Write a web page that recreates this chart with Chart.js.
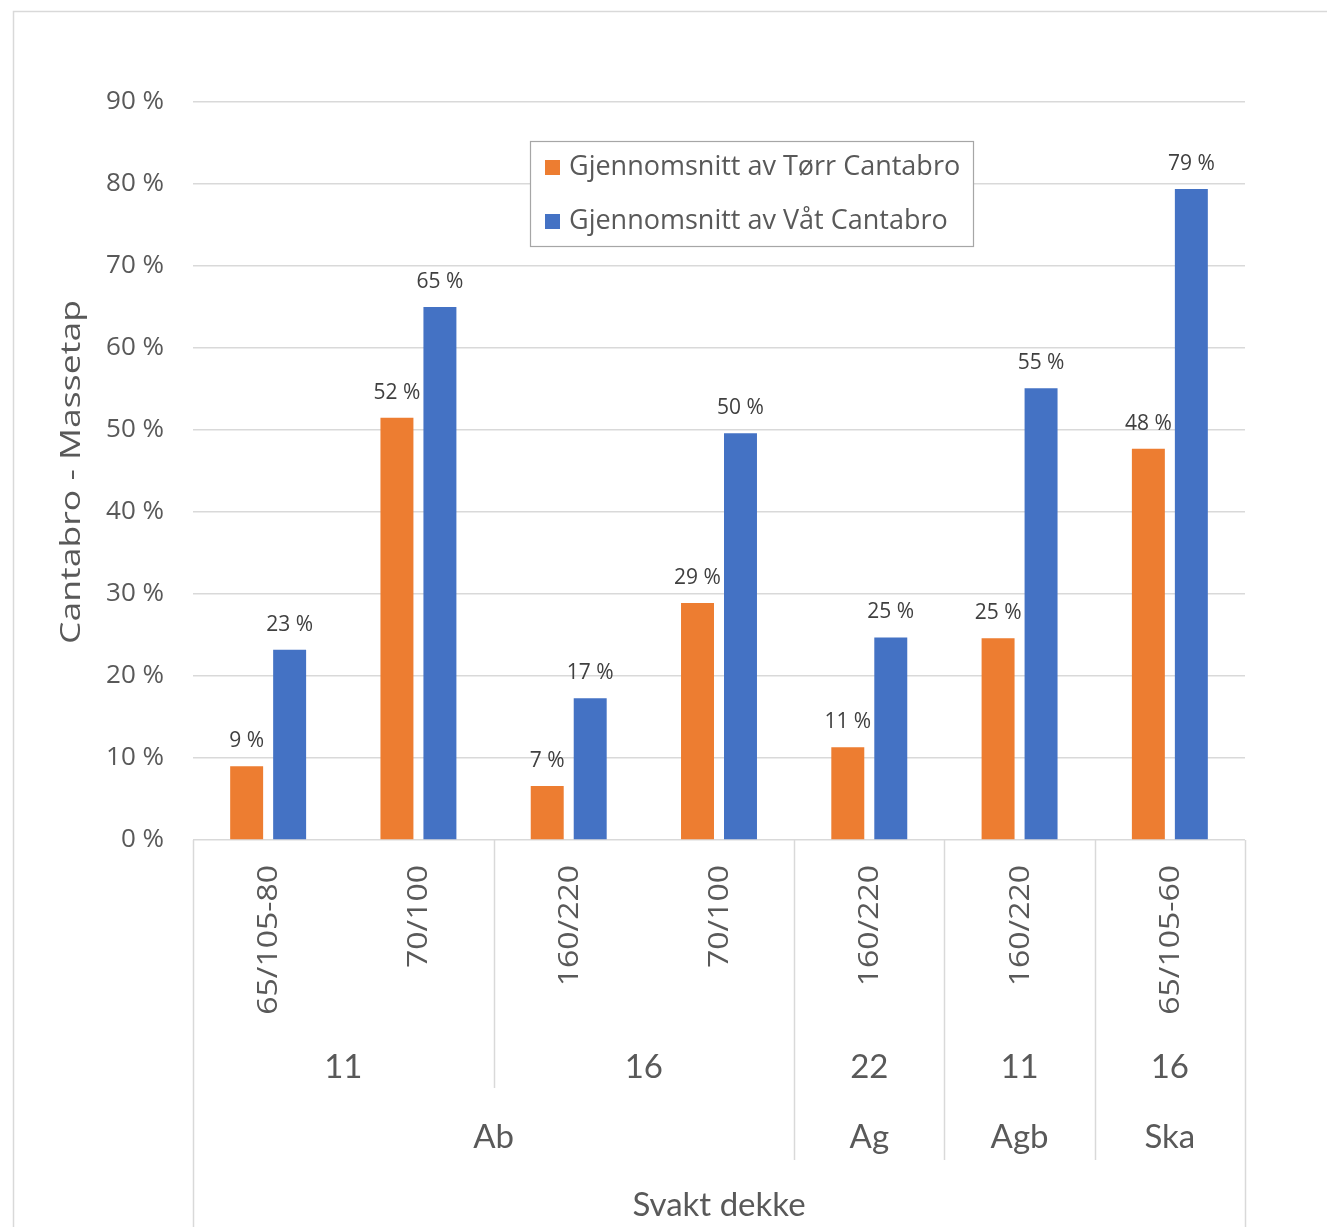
<!DOCTYPE html>
<html>
<head>
<meta charset="utf-8">
<script src="https://cdn.jsdelivr.net/npm/chart.js@4/dist/chart.umd.min.js"></script>
<style>
  html, body { margin: 0; padding: 0; background: #ffffff; }
  #wrap { width: 1327px; height: 1227px; position: relative; }
</style>
</head>
<body>
<div id="wrap"><canvas id="c" width="1327" height="1227"></canvas></div>
<script>
// Binder grade per column (innermost axis level)
const binderGrades = ['65/105-80', '70/100', '160/220', '70/100', '160/220', '160/220', '65/105-60'];
// Max aggregate size (middle axis level)
const maxSizes = ['11', '11', '16', '16', '22', '11', '16'];
// Mix type (outer axis level)
const mixTypes = ['Ab', 'Ab', 'Ab', 'Ab', 'Ag', 'Agb', 'Ska'];

const seriesNames = ['Gjennomsnitt av Tørr Cantabro', 'Gjennomsnitt av Våt Cantabro'];
// Average Cantabro mass loss (fraction)
const dryLoss = [0.090, 0.515, 0.066, 0.289, 0.113, 0.246, 0.477];
const wetLoss = [0.232, 0.650, 0.173, 0.496, 0.247, 0.551, 0.794];

const yTicks = [0, 0.1, 0.2, 0.3, 0.4, 0.5, 0.6, 0.7, 0.8, 0.9];
const xAxisTitle = 'Svakt dekke';
const yAxisTitle = 'Cantabro - Massetap';

const TEXT = '#595959';
const GRID = '#d9d9d9';
const SANS = '"Open Sans", "DejaVu Sans", sans-serif';
const CAL = 'Lato, "Open Sans", sans-serif';

const pct = v => Math.round(v * 100) + ' %';

// group contiguous columns sharing a key
function spans(keys) {
  const out = [];
  keys.forEach((k, i) => {
    const last = out[out.length - 1];
    if (last && last.key === k) last.end = i;
    else out.push({ key: k, start: i, end: i });
  });
  return out;
}

// vertical text, drawn reading bottom-to-top and slightly elongated
function verticalText(ctx, text, x, y, align, stretch) {
  ctx.save();
  ctx.translate(x, y);
  ctx.rotate(-Math.PI / 2);
  ctx.scale(stretch, 1);
  ctx.textAlign = align;
  ctx.textBaseline = 'middle';
  ctx.fillText(text, 0, 0);
  ctx.restore();
}

const decorations = {
  id: 'decorations',
  beforeDraw(chart) {
    const ctx = chart.ctx;
    ctx.save();
    ctx.fillStyle = '#ffffff';
    ctx.fillRect(0, 0, chart.width, chart.height);
    // outer frame
    ctx.strokeStyle = GRID;
    ctx.lineWidth = 1.5;
    ctx.beginPath();
    ctx.moveTo(13.5, chart.height + 2);
    ctx.lineTo(13.5, 11.5);
    ctx.lineTo(chart.width + 2, 11.5);
    ctx.stroke();
    ctx.restore();
  },
  afterDraw(chart) {
    const ctx = chart.ctx;
    const xs = chart.scales.x;
    const area = chart.chartArea;
    const n = binderGrades.length;
    const center = i => xs.getPixelForValue(i);
    const edge = i => {
      if (i <= 0) return xs.left;
      if (i >= n) return xs.right;
      return (center(i - 1) + center(i)) / 2;
    };
    const y0 = area.bottom;
    const l2Bottom = 1088, l3Bottom = 1160, fullBottom = chart.height;

    ctx.save();
    ctx.strokeStyle = GRID;
    ctx.lineWidth = 1.5;
    const vline = (x, yb) => {
      ctx.beginPath();
      ctx.moveTo(Math.round(x) + 0.5, y0);
      ctx.lineTo(Math.round(x) + 0.5, yb);
      ctx.stroke();
    };
    vline(edge(0), fullBottom);
    vline(edge(n), fullBottom);

    const outer = spans(mixTypes);
    const inner = spans(mixTypes.map((m, i) => m + '|' + maxSizes[i]));
    outer.forEach(s => { if (s.start > 0) vline(edge(s.start), l3Bottom); });
    inner.forEach(s => {
      if (s.start > 0 && !outer.some(o => o.start === s.start)) vline(edge(s.start), l2Bottom);
    });

    ctx.fillStyle = TEXT;

    // innermost category labels (binder grade), rotated
    ctx.font = '28px ' + SANS;
    xs.ticks.forEach((t, i) => {
      verticalText(ctx, xs.getLabelForValue(t.value), center(i) + 1, y0 + 25, 'right', 1.14);
    });

    ctx.textAlign = 'center';
    ctx.textBaseline = 'middle';
    ctx.font = '33px ' + CAL;
    inner.forEach(s => {
      const label = s.key.split('|')[1];
      ctx.fillText(label, (edge(s.start) + edge(s.end + 1)) / 2, 1067);
    });
    outer.forEach(s => {
      ctx.fillText(s.key, (edge(s.start) + edge(s.end + 1)) / 2, 1137);
    });
    ctx.fillText(xAxisTitle, (edge(0) + edge(n)) / 2, 1205);

    // y axis title
    ctx.font = '28px ' + SANS;
    verticalText(ctx, yAxisTitle, 72, 472, 'center', 1.27);

    // value labels above bars
    ctx.textAlign = 'center';
    ctx.fillStyle = '#404040';
    ctx.font = '21px ' + SANS;
    chart.data.datasets.forEach((ds, di) => {
      const meta = chart.getDatasetMeta(di);
      meta.data.forEach((bar, i) => {
        ctx.fillText(pct(ds.data[i]), bar.x, bar.y - 25);
      });
    });

    // legend box
    const lx = 530, ly = 141, lw = 443, lh = 105;
    ctx.fillStyle = '#ffffff';
    ctx.fillRect(lx, ly, lw, lh);
    ctx.strokeStyle = '#a6a6a6';
    ctx.lineWidth = 1.2;
    ctx.strokeRect(lx + 0.5, ly + 0.5, lw, lh);
    ctx.textAlign = 'left';
    ctx.font = '27px ' + SANS;
    chart.data.datasets.forEach((ds, di) => {
      const cy = 167 + di * 54;
      ctx.fillStyle = ds.backgroundColor;
      ctx.fillRect(545, cy - 7, 15, 15);
      ctx.fillStyle = TEXT;
      ctx.fillText(ds.label, 569, cy);
    });
    ctx.restore();
  }
};

new Chart(document.getElementById('c'), {
  type: 'bar',
  data: {
    labels: binderGrades,
    datasets: [
      { label: seriesNames[0], data: dryLoss, backgroundColor: '#ed7d31' },
      { label: seriesNames[1], data: wetLoss, backgroundColor: '#4472c4' }
    ]
  },
  options: {
    responsive: false,
    animation: false,
    events: [],
    layout: { padding: { left: 0, top: 102, right: 82, bottom: 0 } },
    datasets: { bar: { categoryPercentage: 0.572, barPercentage: 0.767 } },
    plugins: { legend: { display: false }, tooltip: { enabled: false } },
    scales: {
      x: {
        grid: { display: false },
        border: { display: false },
        ticks: { display: false, autoSkip: false },
        afterFit(scale) { scale.height = 1227 - 840; }
      },
      y: {
        min: 0, max: 0.9,
        afterBuildTicks(scale) { scale.ticks = yTicks.map(v => ({ value: v })); },
        grid: { color: GRID, lineWidth: 1.5, drawTicks: false },
        border: { display: false },
        ticks: {
          padding: 29, color: TEXT,
          font: { family: SANS, size: 26 },
          callback: v => pct(v)
        },
        afterFit(scale) { scale.width = 193; }
      }
    }
  },
  plugins: [decorations]
});
</script>
</body>
</html>
